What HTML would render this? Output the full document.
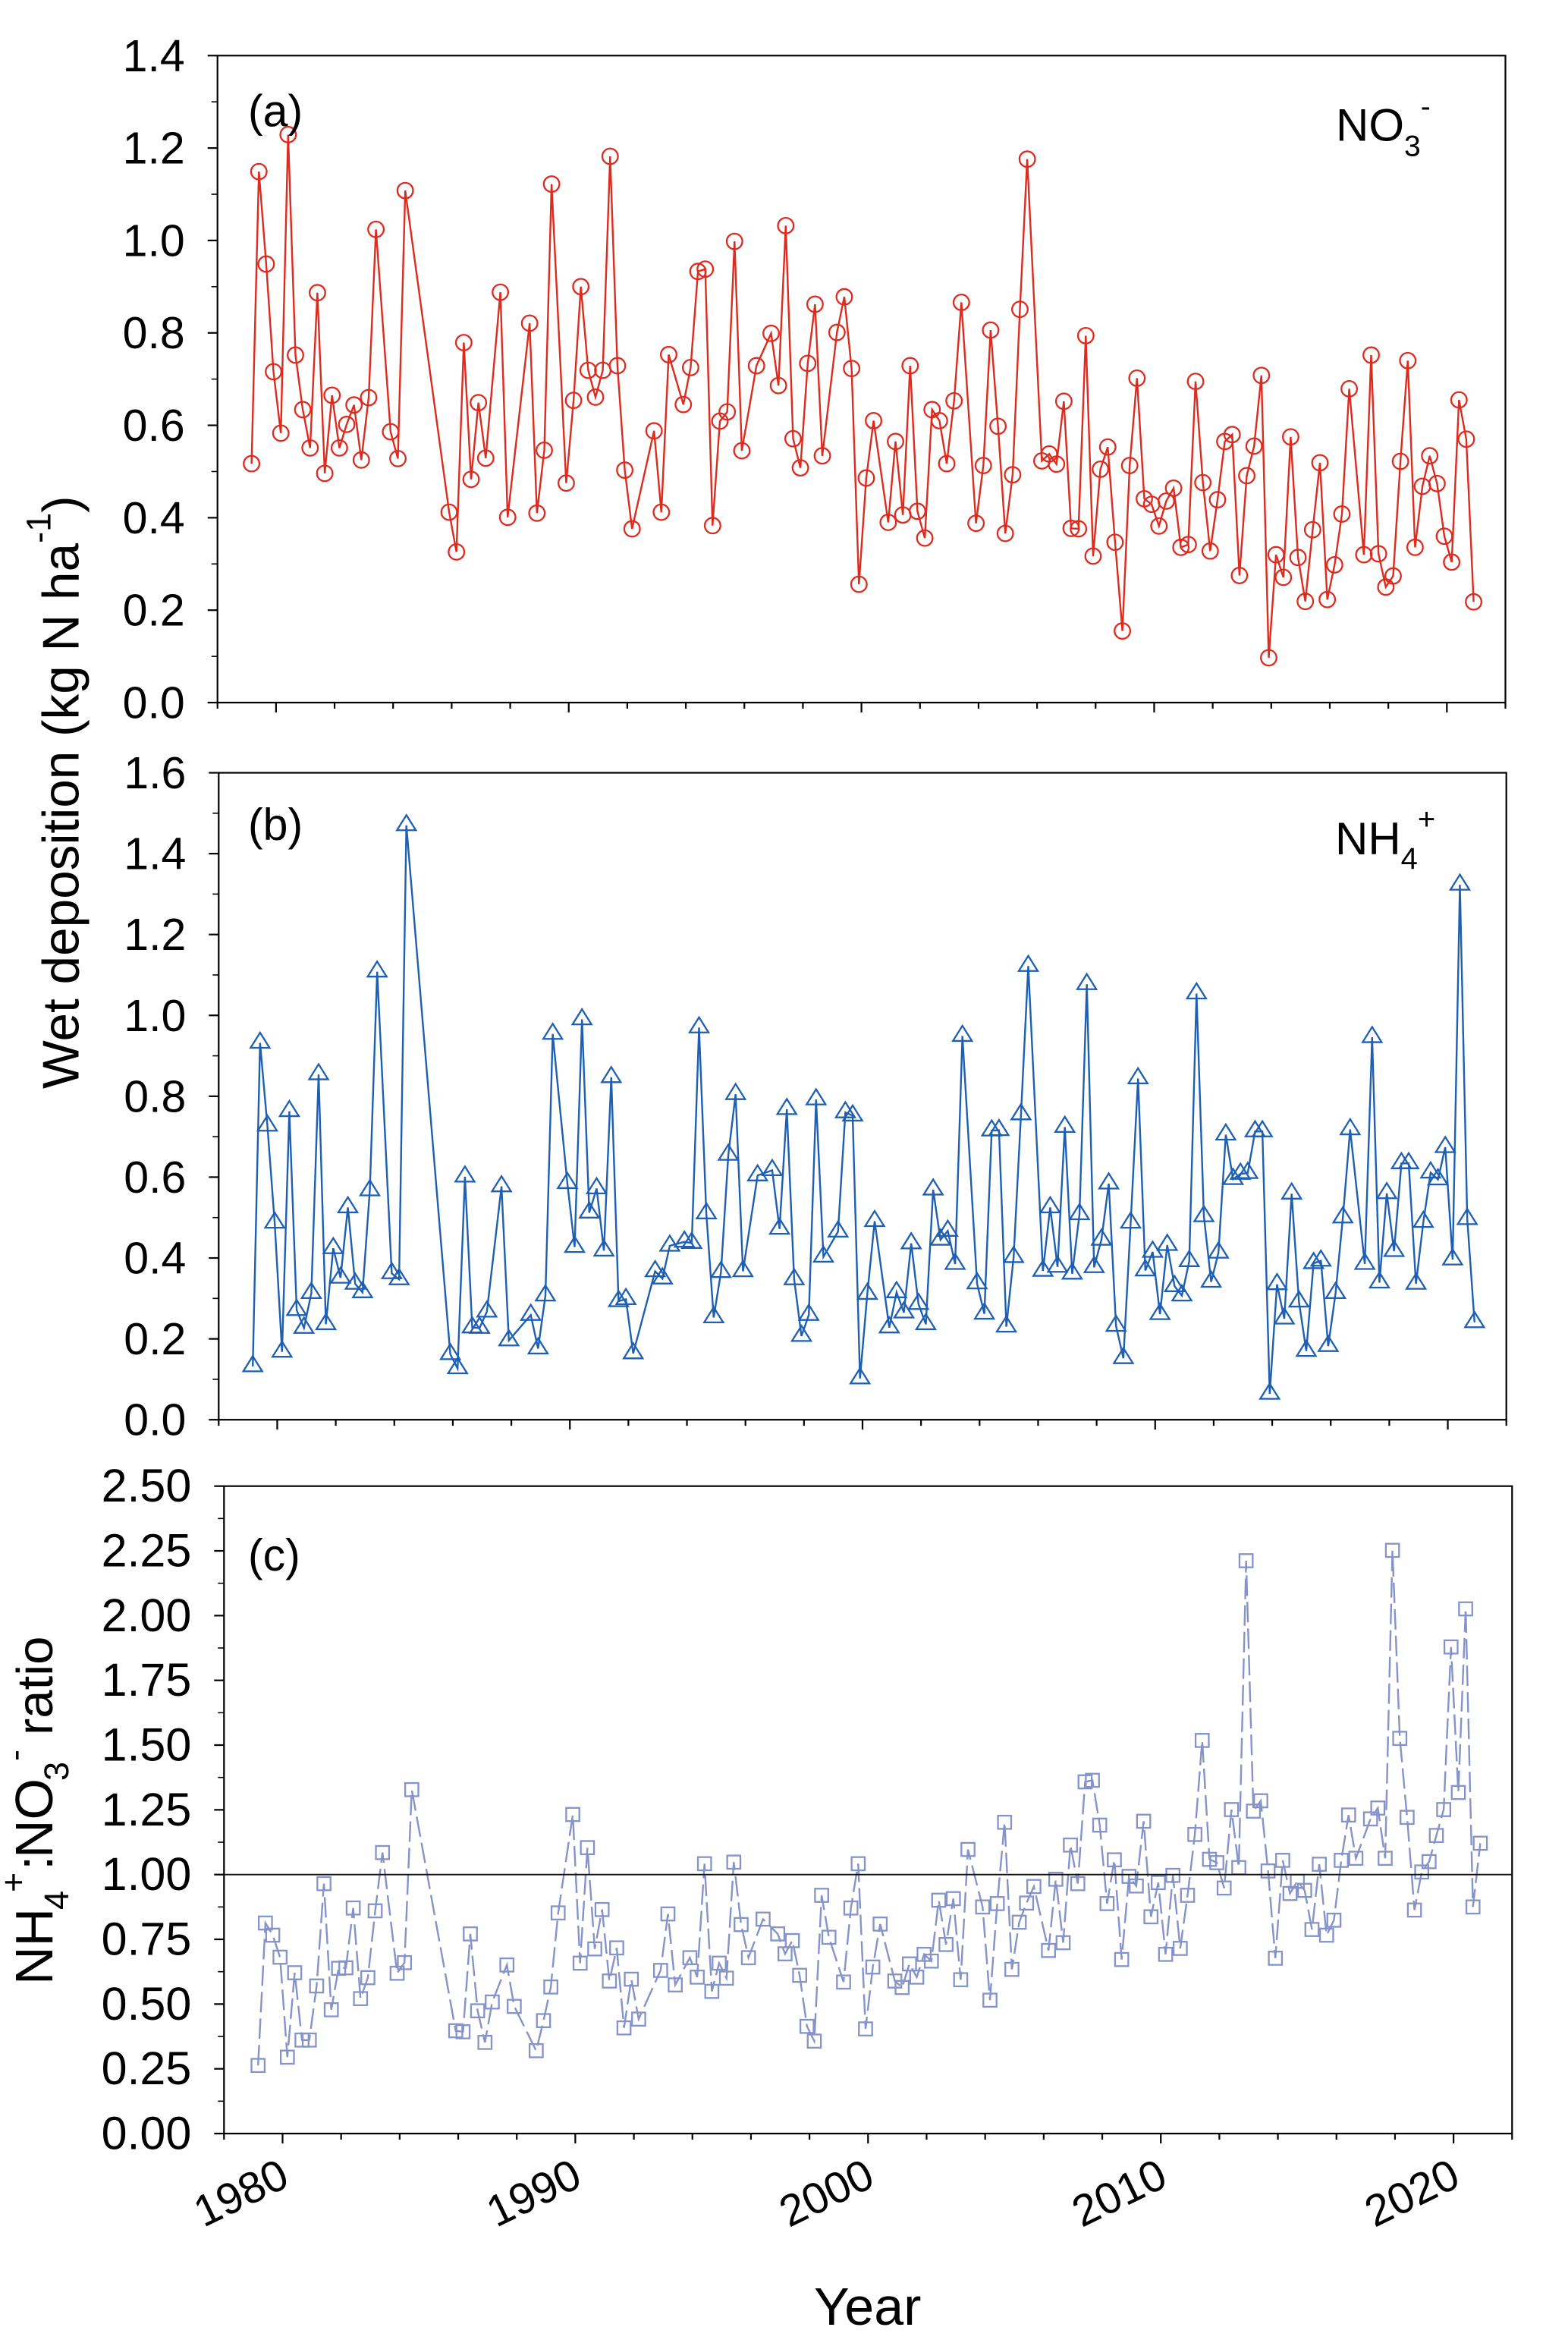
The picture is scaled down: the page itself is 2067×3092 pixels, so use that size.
<!DOCTYPE html>
<html lang="en">
<head>
<meta charset="utf-8">
<title>Wet deposition of NO3- and NH4+ 1979-2020</title>
<style>
html,body{margin:0;padding:0;background:#fff;}
svg{display:block;}
text{font-family:"Liberation Sans",Arial,sans-serif;fill:#000;}
</style>
</head>
<body>
<svg id="chart" xmlns="http://www.w3.org/2000/svg" width="2067" height="3092" viewBox="0 0 2067 3092">
  <rect x="0" y="0" width="2067" height="3092" fill="#fff"/>
  <g id="panel-a"></g>
  <g id="panel-b"></g>
  <g id="panel-c"></g>

  <text x="327" y="166.5" font-size="59">(a)</text>
  <text x="327" y="1107" font-size="59">(b)</text>
  <text x="327" y="2070" font-size="59">(c)</text>

  <text x="1761" y="185.5" font-size="60">NO<tspan font-size="39" dy="20">3</tspan><tspan font-size="39" dy="-52">-</tspan></text>
  <text x="1760" y="1126" font-size="60">NH<tspan font-size="40" dy="19">4</tspan><tspan font-size="40" dy="-52">+</tspan></text>

  <text transform="translate(103.5,1435) rotate(-90)" font-size="67.5">Wet deposition (kg N ha<tspan font-size="45" dy="-37">-1</tspan><tspan dy="37">)</tspan></text>
  <text transform="translate(69,2616) rotate(-90)" font-size="70"><tspan x="0" y="0">NH</tspan><tspan x="99" y="21" font-size="45">4</tspan><tspan x="122" y="-36" font-size="45">+</tspan><tspan x="151" y="0">:</tspan><tspan x="167" y="0">NO</tspan><tspan x="269" y="21" font-size="45">3</tspan><tspan x="295" y="-34" font-size="45">-</tspan><tspan x="329" y="0" font-size="67">ratio</tspan></text>
  <text x="1073" y="3064" font-size="70">Year</text>
</svg>
<script>
var years = [
1979.125,1979.375,1979.625,1979.875,
1980.125,1980.375,1980.625,1980.875,
1981.125,1981.375,1981.625,1981.875,
1982.125,1982.375,1982.625,1982.875,
1983.125,1983.375,1983.875,
1984.125,1984.375,
1985.875,
1986.125,1986.375,1986.625,1986.875,
1987.125,1987.625,1987.875,
1988.625,1988.875,
1989.125,1989.375,1989.875,
1990.125,1990.375,1990.625,1990.875,
1991.125,1991.375,1991.625,1991.875,
1992.125,1992.875,
1993.125,1993.375,1993.875,
1994.125,1994.375,1994.625,1994.875,
1995.125,1995.375,1995.625,1995.875,
1996.375,1996.875,
1997.125,1997.375,1997.625,1997.875,
1998.125,1998.375,1998.625,
1999.125,1999.375,1999.625,1999.875,
2000.125,2000.375,2000.875,
2001.125,2001.375,2001.625,2001.875,
2002.125,2002.375,2002.625,2002.875,
2003.125,2003.375,2003.875,
2004.125,2004.375,2004.625,2004.875,
2005.125,2005.375,2005.625,
2006.125,2006.375,2006.625,2006.875,
2007.125,2007.375,2007.625,2007.875,
2008.125,2008.375,2008.625,2008.875,
2009.125,2009.375,2009.625,2009.875,
2010.125,2010.375,2010.625,2010.875,
2011.125,2011.375,2011.625,2011.875,
2012.125,2012.375,2012.625,2012.875,
2013.125,2013.375,2013.625,2013.875,
2014.125,2014.375,2014.625,2014.875,
2015.125,2015.375,2015.625,2015.875,
2016.125,2016.375,2016.625,
2017.125,2017.375,2017.625,2017.875,
2018.125,2018.375,2018.625,2018.875,
2019.125,2019.375,2019.625,2019.875,
2020.125,2020.375,2020.625,2020.875
];
var no3Values = [
.517,1.149,.949,.716,
.583,1.229,.752,.634,
.551,.887,.496,.665,
.551,.602,.644,.525,
.660,1.024,.586,
.528,1.108,
.412,
.326,.779,.483,.649,
.529,.888,.401,
.821,.410,
.546,1.122,.475,
.654,.900,.719,.661,
.719,1.182,.729,.503,
.376,.588,
.412,.753,.645,
.725,.933,.938,.383,
.609,.629,.998,.545,
.729,.799,
.686,1.032,.571,.508,
.734,.862,.534,
.801,.878,.723,.256,
.486,.610,.390,
.565,.406,.729,.414,
.356,.634,.610,.517,
.653,.866,.388,
.513,.806,.598,.366,
.493,.851,1.176,
.523,.538,.516,.652,
.377,.376,.794,.317,
.505,.553,.347,.155,
.513,.702,.441,.429,
.382,.436,.464,.336,
.342,.695,.476,.328,
.439,.565,.580,.275,
.491,.555,.708,.097,
.320,.271,.575,.314,
.219,.374,.519,.223,
.298,.408,.679,
.320,.752,.322,.250,
.274,.522,.740,.336,
.468,.534,.474,.360,
.304,.655,.570,.218
];
var nh4Values = [
.132,.932,.727,.487,
.168,.763,.271,.227,
.313,.854,.236,.424,
.351,.525,.336,.315,
.567,1.108,.362,
.347,1.470,
.162,
.127,.601,.228,.227,
.267,.577,.196,
.259,.176,
.307,.954,.585,
.427,.990,.512,.572,
.418,.847,.293,.298,
.164,.367,
.349,.430,.440,
.437,.970,.510,.253,
.365,.655,.805,.367,
.604,.617,
.472,.768,.347,.207,
.259,.792,.403,
.465,.760,.752,.102,
.311,.491,.228,
.315,.265,.436,.286,
.236,.569,.445,.467,
.385,.949,.337,
.262,.715,.716,.230,
.402,.755,1.122,
.368,.525,.378,.724,
.361,.508,1.077,.377,
.445,.584,.232,.152,
.487,.844,.369,.415,
.261,.432,.330,.307,
.392,1.054,.503,.341,
.413,.705,.595,.608,
.610,.713,.713,.064,
.335,.250,.559,.292,
.170,.387,.393,.182,
.313,.500,.718,
.385,.946,.339,.560,
.417,.634,.634,.336,
.489,.611,.594,.674,
.396,1.323,.496,.241
];
var ratioValues = [
.263,.813,.766,.681,
.295,.621,.361,.361,
.570,.965,.478,.638,
.640,.871,.521,.602,
.860,1.085,.619,
.660,1.328,
.397,
.393,.771,.474,.352,
.508,.651,.491,
.320,.436,
.566,.852,1.232,
.658,1.104,.713,.865,
.589,.717,.408,.596,
.442,.630,
.848,.574,.679,
.604,1.042,.549,.658,
.600,1.048,.807,.679,
.828,.771,
.694,.745,.611,.414,
.357,.920,.758,
.585,.871,1.042,.404,
.643,.809,.589,
.564,.655,.604,.692,
.666,.901,.730,.907,
.594,1.097,.875,
.515,.888,1.202,.634,
.816,.890,.954,
.707,.982,.737,1.114,
.965,1.358,1.364,1.191,
.888,1.057,.672,.993,
.956,1.206,.837,.969,
.692,.997,.715,.920,
1.155,1.518,1.059,1.046,
.948,1.251,1.027,2.212,
1.245,1.285,1.014,.677,
1.055,.927,.974,.939,
.788,1.040,.766,.824,
1.055,1.230,1.063,
1.215,1.257,1.063,2.252,
1.526,1.221,.863,1.010,
1.050,1.151,1.251,1.879,
1.317,2.026,.875,1.121
];
var xTickYears = [1978,1980,1982,1984,1986,1988,1990,1992,1994,1996,1998,2000,2002,2004,2006,2008,2010,2012,2014,2016,2018,2020,2022];
var xLabelYears = [1980,1990,2000,2010,2020];
var xLabels = ["1980","1990","2000","2010","2020"];
var no3Ticks = [0,.2,.4,.6,.8,1,1.2,1.4];
var no3TickLabels = ["0.0","0.2","0.4","0.6","0.8","1.0","1.2","1.4"];
var no3MinorTicks = [.1,.3,.5,.7,.9,1.1,1.3];
var nh4Ticks = [0,.2,.4,.6,.8,1,1.2,1.4,1.6];
var nh4TickLabels = ["0.0","0.2","0.4","0.6","0.8","1.0","1.2","1.4","1.6"];
var nh4MinorTicks = [.1,.3,.5,.7,.9,1.1,1.3,1.5];
var ratioTicks = [0,.25,.5,.75,1,1.25,1.5,1.75,2,2.25,2.5];
var ratioTickLabels = ["0.00","0.25","0.50","0.75","1.00","1.25","1.50","1.75","2.00","2.25","2.50"];
var ratioMinorTicks = [.125,.375,.625,.875,1.125,1.375,1.625,1.875,2.125,2.375];
var ratioReference = [1];

var NS = 'http://www.w3.org/2000/svg';
function make(tag, parent, attrs) {
  var el = document.createElementNS(NS, tag);
  for (var k in attrs) el.setAttribute(k, attrs[k]);
  parent.appendChild(el);
  return el;
}
function linear(d0, d1, r0, r1) {
  return function (v) { return r0 + (v - d0) * (r1 - r0) / (d1 - d0); };
}

function drawPanel(groupId, box, yMax, ticks, tickLabels, minorTicks, values, color, marker, dash, labelSize) {
  var g = document.getElementById(groupId);
  var xs = linear(1978, 2022, box.left, box.right);
  var ys = linear(0, yMax, box.bottom, box.top);
  var axisW = 2.2;
  var markShift = 1.5;

  var frame = make('rect', g, {x: box.left, y: box.top, width: box.right - box.left, height: box.bottom - box.top, fill: 'none', stroke: '#000', 'stroke-width': axisW});
  
  

  ticks.forEach(function (t, i) {
    var tick = make('line', g, {x1: box.left - 13, x2: box.left, y1: ys(t), y2: ys(t), stroke: '#000', 'stroke-width': axisW});
    
    
    var lab = make('text', g, {x: box.left - 43, y: ys(t) + 20.5, 'text-anchor': 'end', 'font-size': labelSize});
    
    
    lab.textContent = tickLabels[i];
  });
  minorTicks.forEach(function (t) {
    var tick = make('line', g, {x1: box.left - 8, x2: box.left, y1: ys(t), y2: ys(t), stroke: '#000', 'stroke-width': 1.6});
    
    
  });
  xTickYears.forEach(function (yr) {
    var len = xLabelYears.indexOf(yr) >= 0 ? 13 : 8;
    var tick = make('line', g, {x1: xs(yr), x2: xs(yr), y1: box.bottom, y2: box.bottom + len, stroke: '#000', 'stroke-width': axisW});
    
    
  });

  var pts = years.map(function (yr, i) { return (xs(yr) + markShift).toFixed(1) + ',' + ys(values[i]).toFixed(1); }).join(' ');
  var line = make('polyline', g, {points: pts, fill: 'none', stroke: color, 'stroke-width': 2.4, 'stroke-linejoin': 'miter'});
  if (dash) line.setAttribute('stroke-dasharray', dash);
  
  

  years.forEach(function (yr, i) {
    var cx = xs(yr) + markShift, cy = ys(values[i]), m;
    if (marker === 'circle') {
      m = make('circle', g, {cx: cx, cy: cy, r: 10.3, fill: 'none', stroke: color, 'stroke-width': 2.3});
    } else if (marker === 'triangle') {
      m = make('path', g, {d: 'M' + cx + ' ' + (cy - 13.5) + 'L' + (cx + 12.5) + ' ' + (cy + 6.5) + 'L' + (cx - 12.5) + ' ' + (cy + 6.5) + 'Z', fill: 'none', stroke: color, 'stroke-width': 2.3});
    } else {
      m = make('rect', g, {x: cx - 8.7, y: cy - 8.7, width: 17.4, height: 17.4, fill: 'none', stroke: color, 'stroke-width': 2.3});
    }
    
    
  });
  return {xs: xs, ys: ys, g: g};
}

var panelA = {left: 286.7, right: 1984.5, top: 73.3, bottom: 926};
var panelB = {left: 288.3, right: 1985.7, top: 1018.5, bottom: 1871.2};
var panelC = {left: 295.3, right: 1993.3, top: 1958.7, bottom: 2812};

drawPanel('panel-a', panelA, 1.4, no3Ticks, no3TickLabels, no3MinorTicks, no3Values, '#dd2b1f', 'circle', null, 59);
drawPanel('panel-b', panelB, 1.6, nh4Ticks, nh4TickLabels, nh4MinorTicks, nh4Values, '#1f5fb2', 'triangle', null, 59);
var c = drawPanel('panel-c', panelC, 2.5, ratioTicks, ratioTickLabels, ratioMinorTicks, ratioValues, '#8693c9', 'square', '27 8', 61);

ratioReference.forEach(function (v) {
  var ref = make('line', c.g, {x1: panelC.left, x2: panelC.right, y1: c.ys(v), y2: c.ys(v), stroke: '#111', 'stroke-width': 1.8});
  
  
});
xLabelYears.forEach(function (yr, i) {
  var px = c.xs(yr) - 55, py = 2890;
  var lab = make('text', c.g, {transform: 'translate(' + px + ',' + py + ') rotate(-26)', x: 0, y: 20, 'text-anchor': 'middle', 'font-size': 58});
  
  
  lab.textContent = xLabels[i];
});
</script>
</body>
</html>
